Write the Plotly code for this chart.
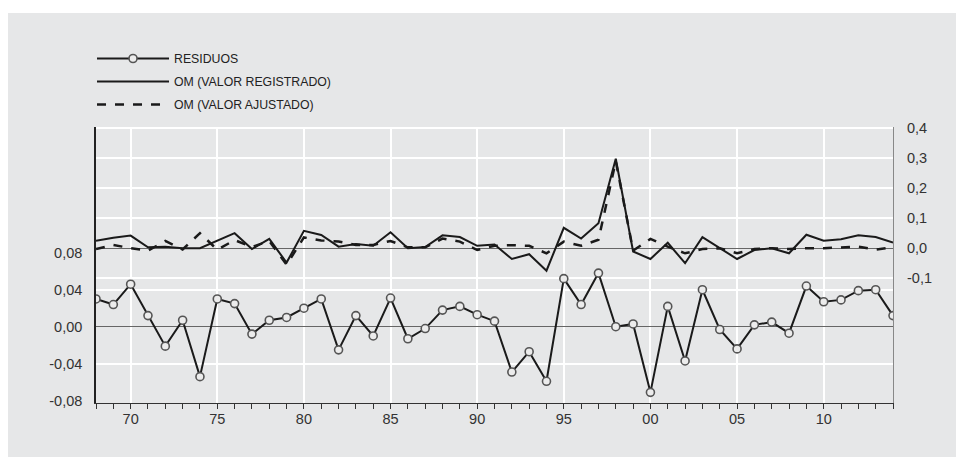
import plotly.graph_objects as go

years = list(range(1968, 2015))

residuos = [0.030, 0.024, 0.046, 0.012, -0.021, 0.007, -0.054, 0.030, 0.025, -0.008,
            0.007, 0.010, 0.020, 0.030, -0.025, 0.012, -0.010, 0.031, -0.013, -0.002,
            0.018, 0.022, 0.013, 0.006, -0.049, -0.027, -0.059, 0.052, 0.024, 0.058,
            0.000, 0.003, -0.071, 0.022, -0.037, 0.040, -0.003, -0.024, 0.002, 0.005,
            -0.007, 0.044, 0.027, 0.029, 0.039, 0.040, 0.012]

om_registrado = [0.025, 0.035, 0.042, 0.003, 0.005, 0.000, 0.000, 0.024, 0.050, -0.003,
                 0.031, -0.048, 0.058, 0.044, 0.005, 0.014, 0.008, 0.053, 0.000, 0.004,
                 0.043, 0.037, 0.008, 0.012, -0.036, -0.020, -0.075, 0.068, 0.032, 0.083,
                 0.298, -0.011, -0.036, 0.018, -0.050, 0.037, 0.000, -0.036, -0.006, 0.000,
                 -0.017, 0.045, 0.025, 0.030, 0.043, 0.037, 0.019]

om_ajustado = [-0.003, 0.011, 0.000, -0.008, 0.024, -0.004, 0.050, -0.005, 0.027, 0.004,
               0.024, -0.055, 0.036, 0.026, 0.022, 0.011, 0.011, 0.024, 0.003, 0.003,
               0.032, 0.022, -0.006, 0.008, 0.010, 0.008, -0.017, 0.022, 0.008, 0.028,
               0.290, -0.008, 0.031, 0.005, -0.017, -0.003, 0.000, -0.017, -0.003, 0.000,
               -0.003, 0.000, 0.000, 0.003, 0.005, -0.005, 0.003]

x_tickvals = [1970, 1975, 1980, 1985, 1990, 1995, 2000, 2005, 2010]
x_ticktext = ["70", "75", "80", "85", "90", "95", "00", "05", "10"]
left_tickvals = [-0.08, -0.04, 0.0, 0.04, 0.08]
left_ticktext = ["-0,08", "-0,04", "0,00", "0,04", "0,08"]
right_tickvals = [-0.1, 0.0, 0.1, 0.2, 0.3, 0.4]
right_ticktext = ["-0,1", "0,0", "0,1", "0,2", "0,3", "0,4"]

BG = "#e6e7e8"
FONT = "Liberation Sans, Arial, sans-serif"
W, H = 956, 457
ML, MR, MT, MB = 96, 63, 127, 54
PW, PH = W - ML - MR, H - MT - MB
LEFT_RANGE = [-0.0825, 0.216]
RIGHT_RANGE = [-0.516, 0.404]

fig = go.Figure()

fig.add_trace(go.Scatter(
    x=years, y=residuos, name="RESIDUOS", yaxis="y", legendgroup="a",
    mode="lines+markers",
    line=dict(color="#1a1a1a", width=2),
    marker=dict(symbol="circle", size=8, color="#ececec",
                line=dict(color="#555555", width=1.6)),
))
fig.add_trace(go.Scatter(
    x=years, y=om_registrado, name="OM (VALOR REGISTRADO)", yaxis="y2", legendgroup="b",
    mode="lines", line=dict(color="#1a1a1a", width=2),
))
fig.add_trace(go.Scatter(
    x=years, y=om_ajustado, name="OM (VALOR AJUSTADO)", yaxis="y2", legendgroup="c",
    mode="lines", line=dict(color="#1a1a1a", width=2.5, dash="dash"),
))

# thin white strips along the top and left edges of the page
fig.add_shape(type="rect", xref="paper", yref="paper", layer="below",
              x0=-ML / PW, x1=(W - ML) / PW,
              y0=(H - MB - 13) / PH, y1=(H - MB) / PH,
              fillcolor="white", line=dict(width=0))
fig.add_shape(type="rect", xref="paper", yref="paper", layer="below",
              x0=-ML / PW, x1=(8 - ML) / PW,
              y0=-MB / PH, y1=(H - MB) / PH,
              fillcolor="white", line=dict(width=0))

fig.update_layout(
    width=W, height=H,
    margin=dict(l=ML, r=MR, t=MT, b=MB),
    paper_bgcolor=BG,
    plot_bgcolor=BG,
    font=dict(family=FONT, size=12, color="#333333"),
    showlegend=True,
    legend=dict(
        x=-0.005, y=(H - MB - 44) / PH, xanchor="left", yanchor="top",
        bgcolor="rgba(0,0,0,0)", font=dict(size=12.3, color="#222222"),
        itemwidth=72, traceorder="grouped", tracegroupgap=4,
    ),
    xaxis=dict(
        range=[1968, 2014], tickvals=x_tickvals, ticktext=x_ticktext,
        showgrid=True, gridcolor="white", gridwidth=1.5,
        ticks="outside", ticklen=5, tickcolor="#333333", tickwidth=1,
        minor=dict(dtick=1, tick0=1968, ticks="outside", ticklen=5,
                   tickcolor="#333333", showgrid=False),
        showline=True, linecolor="#333333", linewidth=1.2,
        zeroline=False, tickfont=dict(size=14.5, color="#333333"),
        ticklabelstandoff=-3,
    ),
    yaxis=dict(
        range=LEFT_RANGE, tickvals=left_tickvals, ticktext=left_ticktext,
        showgrid=False, zeroline=True, zerolinecolor="#666666", zerolinewidth=1,
        showline=True, linecolor="#222222", linewidth=1.5,
        ticks="", ticklabelstandoff=9, tickfont=dict(size=14.5, color="#333333"),
    ),
    yaxis2=dict(
        range=RIGHT_RANGE, tickvals=right_tickvals, ticktext=right_ticktext,
        overlaying="y", side="right",
        showgrid=True, gridcolor="white", gridwidth=1.5,
        zeroline=True, zerolinecolor="#666666", zerolinewidth=1,
        showline=True, linecolor="#888888", linewidth=1.2,
        ticks="", ticklabelstandoff=10, tickfont=dict(size=14.5, color="#333333"),
    ),
    yaxis3=dict(
        range=LEFT_RANGE, tickvals=[-0.04, 0.04], overlaying="y", side="left",
        showgrid=True, gridcolor="white", gridwidth=1.5,
        showticklabels=False, zeroline=False, showline=False, ticks="",
    ),
)

# invisible trace to activate the extra grid axis
fig.add_trace(go.Scatter(x=[years[0]], y=[residuos[0]], yaxis="y3", mode="markers",
                         marker=dict(opacity=0), showlegend=False, hoverinfo="skip"))

fig.write_html(
    "out.html",
    config={"displayModeBar": False},
    post_script=(
        "document.documentElement.style.overflow='hidden';"
        "document.documentElement.style.background='" + BG + "';"
        "document.body.style.overflow='hidden';"
        "document.body.style.margin='0';"
        "document.body.style.background='" + BG + "';"
    ),
)
